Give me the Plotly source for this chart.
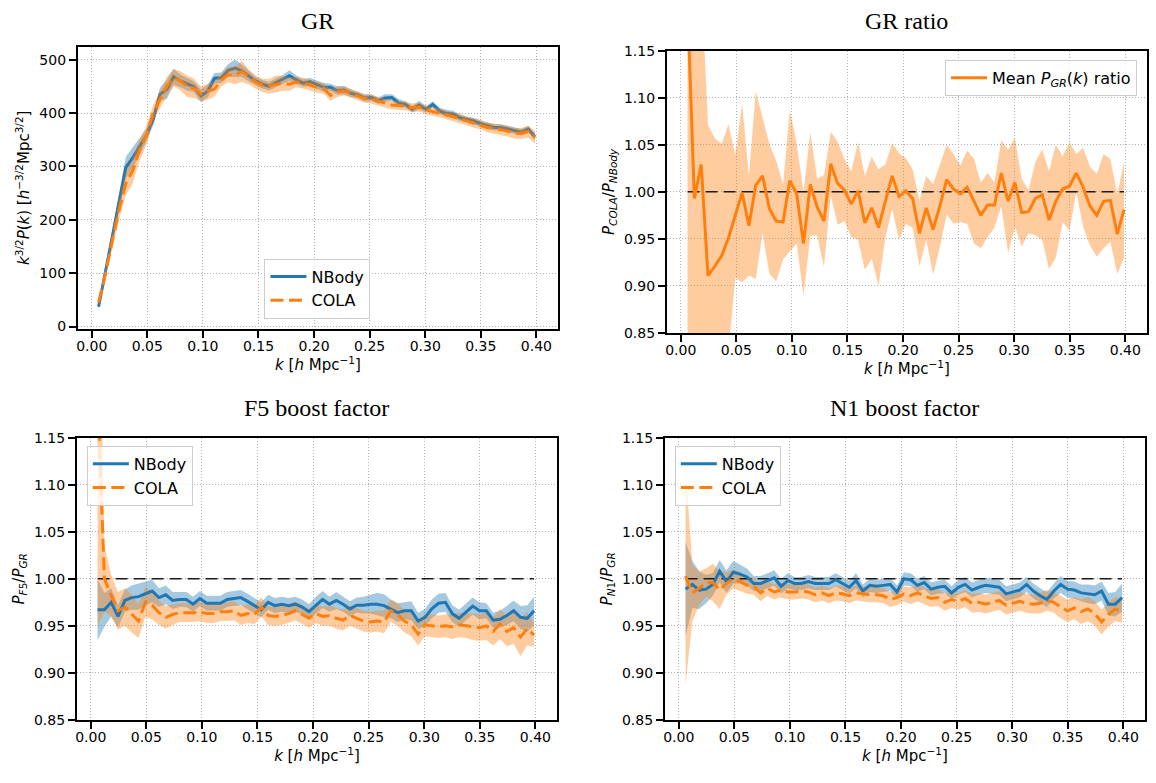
import numpy as np
import plotly.graph_objects as go

W, H = 1156, 783

# k bins: multiples of the fundamental mode 2*pi/1024
k = np.arange(1, 66) * 2 * np.pi / 1024.0

# --- GR power spectrum k^{3/2} P(k): mean and scatter over realisations ---
gr_nbody = [37, 104, 170, 235, 298, 316, 337, 358, 388, 435,
            444, 468, 460, 454, 449, 432, 441, 465, 466, 480,
            484, 479, 469, 460, 454, 450, 457, 463, 470, 462,
            456, 459, 453, 448, 448, 442, 443, 437, 434, 428,
            429, 423, 428, 429, 419, 416, 407, 415, 407, 416,
            404, 399, 398, 391, 388, 385, 380, 376, 373, 373,
            370, 367, 364, 370, 355]
gr_nbody_err = [6, 7, 10, 14, 20, 20, 16, 12, 12, 12,
                18, 15, 12, 12, 10, 12, 12, 10, 10, 12,
                16, 12, 10, 8, 8, 8, 8, 8, 10, 8,
                7, 7, 8, 8, 7, 8, 8, 7, 6, 7,
                6, 6, 7, 6, 7, 6, 6, 8, 6, 6,
                6, 7, 6, 6, 5, 6, 6, 6, 6, 6,
                6, 6, 6, 6, 6]
gr_cola = [45, 98, 160, 218, 268, 292, 330, 358, 400, 425,
           450, 466, 460, 450, 446, 436, 440, 445, 462, 472,
           470, 478, 468, 458, 452, 450, 454, 455, 454, 458,
           456, 452, 448, 446, 433, 440, 441, 437, 432, 427,
           426, 422, 418, 415, 414, 413, 410, 411, 406, 403,
           400, 397, 393, 389, 385, 382, 378, 373, 371, 369,
           366, 362, 362, 365, 354]
gr_cola_err = [8, 10, 14, 18, 22, 24, 20, 18, 14, 15,
               18, 16, 18, 20, 18, 14, 15, 14, 12, 14,
               16, 20, 14, 12, 12, 14, 16, 14, 12, 10,
               10, 10, 10, 10, 10, 10, 8, 8, 8, 8,
               8, 8, 8, 8, 8, 8, 8, 8, 8, 8,
               8, 8, 8, 9, 9, 9, 9, 9, 9, 10,
               10, 10, 10, 11, 12]

# --- mean COLA / NBody ratio in GR ---
ratio_gr = [1.200, 0.993, 1.029, 0.911, 0.921, 0.932, 0.951, 0.974, 0.999, 0.964,
            1.007, 1.017, 0.982, 0.969, 0.968, 1.012, 0.998, 0.945, 1.008, 0.984,
            0.969, 1.030, 1.009, 1.002, 0.987, 1.001, 0.967, 0.983, 0.962, 0.990,
            1.017, 0.995, 1.001, 0.993, 0.956, 0.983, 0.960, 0.985, 1.013, 1.003,
            0.998, 1.005, 0.990, 0.975, 0.986, 0.986, 1.020, 0.990, 1.010, 0.978,
            0.979, 0.993, 0.997, 0.970, 0.990, 1.003, 1.006, 1.020, 1.005, 0.985,
            0.975, 0.990, 0.991, 0.955, 0.981]
ratio_gr_err = [0.600, 0.300, 0.200, 0.160, 0.136, 0.119, 0.121, 0.065, 0.095, 0.053,
                0.100, 0.061, 0.069, 0.064, 0.040, 0.075, 0.053, 0.055, 0.055, 0.030,
                0.049, 0.034, 0.044, 0.033, 0.035, 0.052, 0.050, 0.054, 0.062, 0.039,
                0.035, 0.046, 0.035, 0.031, 0.035, 0.034, 0.048, 0.044, 0.037, 0.037,
                0.030, 0.039, 0.045, 0.035, 0.034, 0.024, 0.035, 0.055, 0.047, 0.036,
                0.023, 0.039, 0.048, 0.052, 0.060, 0.035, 0.047, 0.020, 0.042, 0.042,
                0.044, 0.050, 0.044, 0.042, 0.051]

# --- F5 boost factor P_F5 / P_GR ---
f5_nbody = [0.967, 0.967, 0.975, 0.960, 0.977, 0.980, 0.981, 0.984, 0.987, 0.980,
            0.983, 0.977, 0.978, 0.978, 0.973, 0.979, 0.974, 0.974, 0.974, 0.978,
            0.979, 0.980, 0.976, 0.9715, 0.967, 0.975, 0.9715, 0.973, 0.9715, 0.973,
            0.970, 0.965, 0.972, 0.978, 0.973, 0.977, 0.973, 0.968, 0.972, 0.972,
            0.973, 0.973, 0.9715, 0.968, 0.964, 0.966, 0.966, 0.955, 0.959, 0.968,
            0.974, 0.975, 0.963, 0.958, 0.965, 0.971, 0.966, 0.966, 0.956, 0.957,
            0.961, 0.966, 0.959, 0.958, 0.966]
f5_nbody_err = [0.032, 0.018, 0.015, 0.012, 0.012, 0.013, 0.014, 0.013, 0.012, 0.010,
                0.010, 0.009, 0.008, 0.008, 0.008, 0.008, 0.008, 0.008, 0.008, 0.008,
                0.008, 0.008, 0.008, 0.008, 0.008, 0.008, 0.008, 0.008, 0.008, 0.008,
                0.008, 0.008, 0.009, 0.009, 0.008, 0.009, 0.008, 0.008, 0.008, 0.009,
                0.010, 0.012, 0.012, 0.010, 0.010, 0.009, 0.010, 0.009, 0.009, 0.010,
                0.010, 0.010, 0.009, 0.009, 0.009, 0.009, 0.009, 0.008, 0.008, 0.009,
                0.010, 0.011, 0.012, 0.014, 0.015]
f5_cola = [1.200, 1.000, 0.982, 0.966, 0.970, 0.963, 0.955, 0.975, 0.972, 0.964,
           0.959, 0.962, 0.964, 0.964, 0.964, 0.965, 0.963, 0.963, 0.965, 0.965,
           0.966, 0.961, 0.963, 0.962, 0.970, 0.961, 0.960, 0.961, 0.963, 0.966,
           0.962, 0.958, 0.963, 0.960, 0.961, 0.958, 0.956, 0.961, 0.958, 0.955,
           0.954, 0.955, 0.954, 0.966, 0.962, 0.955, 0.951, 0.941, 0.951, 0.950,
           0.949, 0.950, 0.949, 0.951, 0.950, 0.949, 0.948, 0.950, 0.944, 0.952,
           0.944, 0.948, 0.938, 0.947, 0.940]
f5_cola_err = [0.250, 0.035, 0.022, 0.020, 0.020, 0.020, 0.018, 0.016, 0.015, 0.013,
               0.012, 0.011, 0.010, 0.010, 0.010, 0.010, 0.010, 0.010, 0.010, 0.010,
               0.010, 0.010, 0.010, 0.010, 0.010, 0.010, 0.010, 0.010, 0.010, 0.010,
               0.010, 0.010, 0.010, 0.010, 0.011, 0.011, 0.011, 0.011, 0.011, 0.011,
               0.011, 0.011, 0.012, 0.012, 0.012, 0.012, 0.012, 0.012, 0.012, 0.012,
               0.012, 0.012, 0.013, 0.013, 0.013, 0.014, 0.014, 0.015, 0.015, 0.016,
               0.016, 0.017, 0.020, 0.018, 0.012]

# --- N1 boost factor P_N1 / P_GR ---
n1_nbody = [0.989, 0.994, 0.988, 0.989, 0.994, 1.008, 0.997, 1.007, 1.005, 1.002,
            0.995, 0.995, 0.998, 1.001, 0.992, 0.998, 0.995, 0.995, 0.997, 0.995,
            0.995, 0.995, 0.999, 0.995, 0.991, 0.998, 0.987, 0.993, 0.992, 0.993,
            0.994, 0.986, 1.000, 0.999, 0.993, 0.996, 0.989, 0.991, 0.992, 0.985,
            0.991, 0.994, 0.988, 0.991, 0.993, 0.992, 0.991, 0.984, 0.986, 0.988,
            0.994, 0.987, 0.982, 0.978, 0.987, 0.994, 0.989, 0.988, 0.985, 0.984,
            0.983, 0.987, 0.973, 0.973, 0.980]
n1_nbody_err = [0.050, 0.025, 0.020, 0.015, 0.012, 0.012, 0.012, 0.012, 0.010, 0.009,
                0.008, 0.008, 0.008, 0.008, 0.008, 0.008, 0.007, 0.007, 0.007, 0.007,
                0.007, 0.007, 0.007, 0.007, 0.007, 0.008, 0.007, 0.007, 0.007, 0.007,
                0.007, 0.007, 0.007, 0.007, 0.007, 0.007, 0.007, 0.007, 0.007, 0.007,
                0.008, 0.008, 0.008, 0.008, 0.008, 0.008, 0.008, 0.008, 0.008, 0.008,
                0.008, 0.008, 0.008, 0.008, 0.008, 0.009, 0.009, 0.009, 0.009, 0.010,
                0.010, 0.010, 0.012, 0.013, 0.015]
n1_cola = [1.003, 0.985, 0.990, 0.996, 0.996, 0.988, 0.995, 1.000, 0.997, 0.993,
           0.992, 0.985, 0.990, 0.986, 0.988, 0.986, 0.986, 0.987, 0.986, 0.983,
           0.985, 0.982, 0.985, 0.984, 0.982, 0.985, 0.984, 0.983, 0.983, 0.982,
           0.978, 0.980, 0.984, 0.982, 0.985, 0.982, 0.979, 0.980, 0.975, 0.978,
           0.976, 0.979, 0.974, 0.975, 0.973, 0.975, 0.977, 0.972, 0.974, 0.976,
           0.974, 0.973, 0.974, 0.977, 0.975, 0.970, 0.966, 0.969, 0.965, 0.968,
           0.963, 0.954, 0.962, 0.968, 0.965]
n1_cola_err = [0.115, 0.030, 0.018, 0.015, 0.020, 0.020, 0.012, 0.010, 0.010, 0.009,
               0.009, 0.009, 0.008, 0.008, 0.008, 0.008, 0.008, 0.008, 0.008, 0.008,
               0.008, 0.008, 0.008, 0.008, 0.008, 0.008, 0.008, 0.008, 0.008, 0.008,
               0.008, 0.008, 0.008, 0.009, 0.009, 0.009, 0.009, 0.009, 0.009, 0.009,
               0.009, 0.009, 0.010, 0.010, 0.010, 0.010, 0.010, 0.010, 0.010, 0.010,
               0.010, 0.010, 0.011, 0.011, 0.011, 0.012, 0.012, 0.012, 0.013, 0.013,
               0.013, 0.013, 0.013, 0.013, 0.012]

panel_titles = ["GR", "GR ratio", "F5 boost factor", "N1 boost factor"]

BLUE = "#1f77b4"
ORANGE = "#ff7f0e"
BLUE_FILL = "rgba(31,119,180,0.4)"
ORANGE_FILL = "rgba(255,127,14,0.4)"
SANS = "DejaVu Sans"
SERIF = "Liberation Serif"

# panel boxes in pixels: (left, right, top, bottom)
boxes = [(76, 557, 39.6, 327.4),
         (666, 1147, 43.7, 331.7),
         (75, 556, 438.7, 726.7),
         (664, 1145, 438.7, 726.7)]

fig = go.Figure()


def ax_names(i):
    s = "" if i == 0 else str(i + 1)
    return "x" + s, "y" + s


def add_band(i, mean, err, fill):
    xa, ya = ax_names(i)
    m = np.asarray(mean, float)
    e = np.asarray(err, float)
    xs = np.concatenate([k, k[::-1]])
    ys = np.concatenate([m + e, (m - e)[::-1]])
    fig.add_trace(go.Scatter(x=xs, y=ys, fill="toself", fillcolor=fill,
                             line=dict(width=0), mode="lines", hoverinfo="skip",
                             showlegend=False, xaxis=xa, yaxis=ya))


def add_line(i, mean, color, name, legend, dash="solid"):
    xa, ya = ax_names(i)
    fig.add_trace(go.Scatter(x=k, y=mean, mode="lines", name=name,
                             line=dict(color=color, width=3, dash=dash),
                             legend=legend, xaxis=xa, yaxis=ya))


def add_unity(i):
    xa, ya = ax_names(i)
    fig.add_trace(go.Scatter(x=[k[0], k[-1]], y=[1.0, 1.0], mode="lines",
                             line=dict(color="#1a1a1a", width=1.5, dash="12px,6px"),
                             showlegend=False, hoverinfo="skip", xaxis=xa, yaxis=ya))


DASH = "13px,5.5px"

# GR spectra
add_band(0, gr_nbody, gr_nbody_err, BLUE_FILL)
add_line(0, gr_nbody, BLUE, "NBody", "legend")
add_band(0, gr_cola, gr_cola_err, ORANGE_FILL)
add_line(0, gr_cola, ORANGE, "COLA", "legend", DASH)

# GR ratio
add_band(1, ratio_gr, ratio_gr_err, ORANGE_FILL)
add_unity(1)
add_line(1, ratio_gr, ORANGE, "Mean <i>P</i><sub><i>GR</i></sub>(<i>k</i>) ratio", "legend2")

# F5 boost
add_band(2, f5_nbody, f5_nbody_err, BLUE_FILL)
add_band(2, f5_cola, f5_cola_err, ORANGE_FILL)
add_unity(2)
add_line(2, f5_nbody, BLUE, "NBody", "legend3")
add_line(2, f5_cola, ORANGE, "COLA", "legend3", DASH)

# N1 boost
add_band(3, n1_nbody, n1_nbody_err, BLUE_FILL)
add_band(3, n1_cola, n1_cola_err, ORANGE_FILL)
add_unity(3)
add_line(3, n1_nbody, BLUE, "NBody", "legend4")
add_line(3, n1_cola, ORANGE, "COLA", "legend4", DASH)

xtitle = "<i>k</i> [<i>h</i> Mpc<sup>\u22121</sup>]"
ytitles = [
    "<i>k</i><sup>3/2</sup><i>P</i>(<i>k</i>) [<i>h</i><sup>\u22123/2</sup>Mpc<sup>3/2</sup>]",
    "<i>P</i><sub><i>COLA</i></sub>/<i>P</i><sub><i>NBody</i></sub>",
    "<i>P</i><sub><i>F</i>5</sub>/<i>P</i><sub><i>GR</i></sub>",
    "<i>P</i><sub><i>N</i>1</sub>/<i>P</i><sub><i>GR</i></sub>",
]

common = dict(showline=True, linecolor="black", linewidth=2, mirror=True,
              ticks="outside", ticklen=7, tickwidth=1.5, tickcolor="black",
              showgrid=True, gridcolor="#b0b0b0", griddash="1.5px,1.5px", gridwidth=1,
              zeroline=False, tickfont=dict(family=SANS, size=14, color="black"))

layout = dict(width=W, height=H, margin=dict(l=0, r=0, t=0, b=0),
              paper_bgcolor="white", plot_bgcolor="white", annotations=[])

for i, (l, r, t, b) in enumerate(boxes):
    s = "" if i == 0 else str(i + 1)
    xa = dict(common, domain=[l / W, r / W], range=[-0.0125, 0.4195],
              tick0=0, dtick=0.05, tickformat=".2f", anchor="y" + s,
              ticklabelstandoff=-4,
              title=dict(text=xtitle, font=dict(family=SANS, size=15, color="black"),
                         standoff=2))
    if i == 0:
        ya = dict(common, range=[-4, 524], tick0=0, dtick=100)
    else:
        ya = dict(common, range=[0.85, 1.15], tick0=0.85, dtick=0.05, tickformat=".2f")
    ya.update(domain=[1 - b / H, 1 - t / H], anchor="x" + s,
              title=dict(text=ytitles[i], font=dict(family=SANS, size=15, color="black"),
                         standoff=6))
    layout["xaxis" + s] = xa
    layout["yaxis" + s] = ya
    ty = 13.5 if i < 2 else 408
    layout["annotations"].append(dict(
        text=panel_titles[i], xref="paper", yref="paper", x=(l + r) / 2 / W,
        y=1 - ty / H, xanchor="center", yanchor="middle", showarrow=False,
        font=dict(family=SERIF, size=24, color="black")))

legend_style = dict(bgcolor="rgba(255,255,255,0.8)", bordercolor="#cccccc",
                    borderwidth=1, font=dict(family=SANS, size=16, color="black"),
                    itemwidth=36, tracegroupgap=0)
# (x px, y px, xanchor, yanchor)
legend_pos = {"legend": (316, 317, "center", "bottom"),
              "legend2": (1137, 53, "right", "top"),
              "legend3": (85, 447, "left", "top"),
              "legend4": (674, 447, "left", "top")}
for name, (px, py, xa_, ya_) in legend_pos.items():
    layout[name] = dict(legend_style, x=px / W, y=1 - py / H, xanchor=xa_, yanchor=ya_)

fig.update_layout(**layout)
fig.write_html("out.html")
